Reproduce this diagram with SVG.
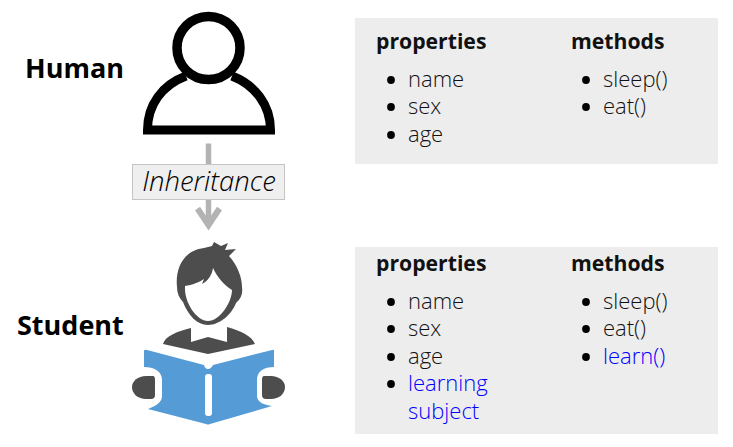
<svg xmlns="http://www.w3.org/2000/svg" width="733" height="447" viewBox="0 0 733 447">
<style>
text{font-family:"Open Sans","Noto Sans",sans-serif;fill:#111}
.l{font-size:27px;font-weight:700;fill:#000}
.h{font-size:21.200px;font-weight:700;fill:#111}
.i{font-size:22px;font-weight:300}
.b{fill:#0000ff}
.p{fill:#eeeded}
.d{fill:#4d4d4d}
.k{fill:#559bd6}
</style>
<defs><circle id="dot" r="3.900" fill="#000"/></defs>
<rect width="733" height="447" fill="#fff"/>
<g id="connectors" stroke="#b3b3b3" fill="none" stroke-width="5.500">
<path d="M208.500 143.500V165"/>
<path d="M208.500 199V226"/>
<path d="M197.500 208.500L208.500 225L219.500 208.500" stroke-width="6"/>
</g>
<g id="inheritance"><rect x="132.500" y="164.500" width="152" height="35" fill="#efefef" stroke="#c4c4c4"/>
<text x="209" y="191" text-anchor="middle" font-size="27.500" font-style="italic" font-weight="300" style="fill:#000">Inheritance</text></g>
<g id="human">
<text class="l" x="25" y="78">Human</text>
<circle cx="208.500" cy="48" r="31.500" fill="none" stroke="#000" stroke-width="9.500"/>
<path d="M186 76C162 85 147.500 105 147.500 130H270.500C270.500 105 255 85 232 76" fill="none" stroke="#000" stroke-width="9"/>
</g>
<g id="student">
<text class="l" x="17" y="335">Student</text>
<path class="d" d="M177 287C175 268 184 250 204 248L212 246L214 242L221 246L228 243L225 250L236 249L229 256C238 266 242 278 242 287C243 294 241 299 236 303C232 314 220 325 208 325C197 325 188 315 183 302C179 298 177 293 177 287Z"/>
<path d="M185 286C192 285 200 282 204 279L202 284C208 281 212 275 213 268C217 277 224 285 232 290C232 302 220 321 208 321C197 321 184 303 185 286Z" fill="#fff"/>
<path class="d" d="M191 328V342L208 337L227 342V327C241 331 252 336 255 344L208 354L163 344C165 336 178 331 191 328Z"/>
<path class="k" d="M144 351Q144 349 147 350L204 365Q205 369 208 369Q211 369 213 365L272 350Q274 349 274 351V367C264 367 257 371 257 380V396C257 402 264 405 272 406L210 424Q208 425 206 424L148 409C156 406 162 402 162 396V380C162 371 154 367 144 367Z"/>
<rect x="205" y="374" width="7" height="42" rx="3" fill="#fff"/>
<path class="d" d="M146 376H153Q155 376 155 380V395Q155 399 151 399H146C138 399 132 394 132 387C132 381 138 376 146 376Z"/>
<path class="d" d="M271 376H264Q262 376 262 380V395Q262 399 266 399H271C279 399 285 394 285 387C285 381 279 376 271 376Z"/>
</g>
<g id="human-panel"><rect class="p" x="355" y="18" width="363" height="146"/>
<text class="h" x="376" y="49">properties</text><text class="h" x="571" y="49">methods</text>
<use href="#dot" x="391" y="80"/><use href="#dot" x="391" y="107"/><use href="#dot" x="391" y="135"/>
<text class="i" x="408" y="87">name</text><text class="i" x="408" y="114">sex</text><text class="i" x="408" y="142">age</text>
<use href="#dot" x="586" y="80"/><use href="#dot" x="586" y="107"/>
<text class="i" x="603" y="87">sleep()</text><text class="i" x="603" y="114">eat()</text>
</g>
<g id="student-panel"><rect class="p" x="355" y="247" width="363" height="187"/>
<text class="h" x="376" y="271">properties</text><text class="h" x="571" y="271">methods</text>
<use href="#dot" x="391" y="302"/><use href="#dot" x="391" y="329"/><use href="#dot" x="391" y="357"/><use href="#dot" x="391" y="384"/>
<text class="i" x="408" y="309">name</text><text class="i" x="408" y="336">sex</text><text class="i" x="408" y="364">age</text>
<text class="i b" x="408" y="391">learning</text><text class="i b" x="408" y="419">subject</text>
<use href="#dot" x="586" y="302"/><use href="#dot" x="586" y="329"/><use href="#dot" x="586" y="357"/>
<text class="i" x="603" y="309">sleep()</text><text class="i" x="603" y="336">eat()</text><text class="i b" x="603" y="364">learn()</text>
</g>
</svg>
